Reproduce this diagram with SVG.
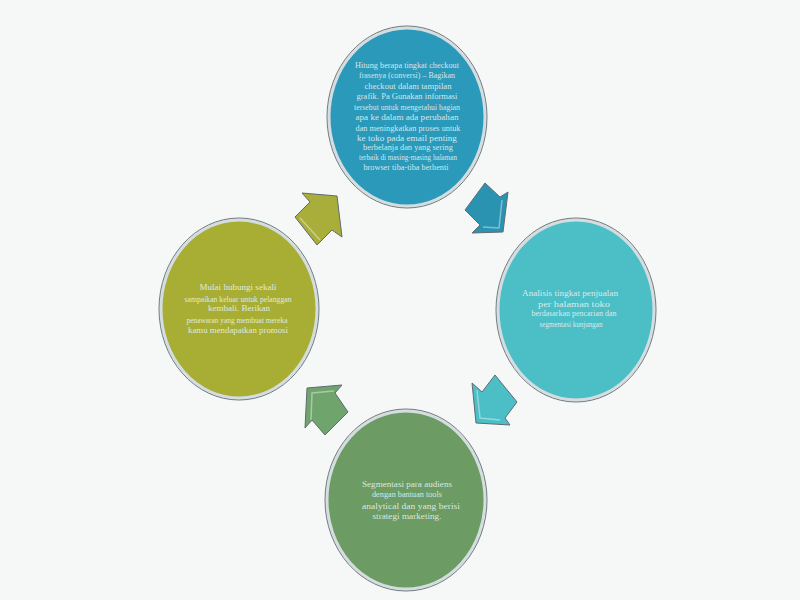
<svg xmlns="http://www.w3.org/2000/svg" width="800" height="600" viewBox="0 0 800 600">
<style>
.ring{stroke:#d4dde0;stroke-width:3}
.edge{fill:none;stroke:#5f6b70;stroke-width:0.9}
.t{font-family:"Liberation Serif","Times New Roman",serif;font-size:7.5px;fill:#e6f3f5;fill-opacity:0.9;text-anchor:middle}
.arr{stroke:#5f6b70;stroke-width:1;stroke-linejoin:round}
.hl{fill:none;stroke:#ffffff;stroke-opacity:0.4;stroke-width:1.5}
</style>
<rect width="800" height="600" fill="#f6f7f7"/>
<g id="connectors">
  <g id="arrow-top-right">
    <polygon class="arr" fill="#2b93b2" points="485,183 500,197 508,192 503,232 472,233 480,225 465,210"/>
    <polyline class="hl" points="483,227 499,228 502,200"/>
  </g>
  <g id="arrow-right-bottom">
    <polygon class="arr" fill="#4bbec6" points="495,375 517,402 505,418 510,425 476,423 472,383 482,392"/>
    <polyline class="hl" points="477,390 480,418 500,420"/>
  </g>
  <g id="arrow-bottom-left">
    <polygon class="arr" fill="#6fa56c" points="348,412 325,435 312,420 305,428 307,388 342,385 335,393"/>
    <polyline class="hl" points="311,420 312,393 334,391"/>
  </g>
  <g id="arrow-left-top">
    <polygon class="arr" fill="#a9ae3a" points="295,217 310,202 302,193 337,196 342,237 332,230 317,245"/>
    <polyline class="hl" points="300,218 320,240"/>
  </g>
</g>
<g id="node-top">
  <ellipse cx="407" cy="117" rx="78" ry="89" fill="#2a99ba" class="ring"/>
  <ellipse cx="407" cy="117" rx="80" ry="91" class="edge"/>
  <text class="t" x="407" y="68" textLength="104" lengthAdjust="spacingAndGlyphs">Hitung berapa tingkat checkout</text>
  <text class="t" x="407" y="78" textLength="96" lengthAdjust="spacingAndGlyphs">frasenya (conversi) – Bagikan</text>
  <text class="t" x="408" y="89" textLength="87" lengthAdjust="spacingAndGlyphs">checkout dalam tampilan</text>
  <text class="t" x="407" y="99" textLength="101" lengthAdjust="spacingAndGlyphs">grafik. Pa Gunakan informasi</text>
  <text class="t" x="407" y="110" textLength="106" lengthAdjust="spacingAndGlyphs">tersebut untuk mengetahui bagian</text>
  <text class="t" x="407" y="120" textLength="103" lengthAdjust="spacingAndGlyphs">apa ke dalam ada perubahan</text>
  <text class="t" x="408" y="131" textLength="105" lengthAdjust="spacingAndGlyphs">dan meningkatkan proses untuk</text>
  <text class="t" x="407" y="141" textLength="100" lengthAdjust="spacingAndGlyphs">ke toko pada email penting</text>
  <text class="t" x="408" y="150" textLength="90" lengthAdjust="spacingAndGlyphs">berbelanja dan yang sering</text>
  <text class="t" x="408" y="160" textLength="98" lengthAdjust="spacingAndGlyphs">terbaik di masing-masing halaman</text>
  <text class="t" x="406" y="170" textLength="85" lengthAdjust="spacingAndGlyphs">browser tiba-tiba berhenti</text>
</g>
<g id="node-right">
  <ellipse cx="576" cy="310" rx="78" ry="90" fill="#4bbec6" class="ring"/>
  <ellipse cx="576" cy="310" rx="80" ry="92" class="edge"/>
  <text class="t" x="570" y="296" textLength="96" lengthAdjust="spacingAndGlyphs">Analisis tingkat penjualan</text>
  <text class="t" x="574" y="307" textLength="72" lengthAdjust="spacingAndGlyphs">per halaman toko</text>
  <text class="t" x="574" y="316" textLength="85" lengthAdjust="spacingAndGlyphs">berdasarkan pencarian dan</text>
  <text class="t" x="571" y="327" textLength="63" lengthAdjust="spacingAndGlyphs">segmentasi kunjungan</text>
</g>
<g id="node-left">
  <ellipse cx="239" cy="309" rx="78" ry="89" fill="#a8ad34" class="ring"/>
  <ellipse cx="239" cy="309" rx="80" ry="91" class="edge"/>
  <text class="t" x="238" y="290" textLength="77" lengthAdjust="spacingAndGlyphs">Mulai hubungi sekali</text>
  <text class="t" x="238" y="302" textLength="107" lengthAdjust="spacingAndGlyphs">sampaikan keluar untuk pelanggan</text>
  <text class="t" x="239" y="311" textLength="62" lengthAdjust="spacingAndGlyphs">kembali. Berikan</text>
  <text class="t" x="237" y="323" textLength="101" lengthAdjust="spacingAndGlyphs">penawaran yang membuat mereka</text>
  <text class="t" x="238" y="333" textLength="100" lengthAdjust="spacingAndGlyphs">kamu mendapatkan promosi</text>
</g>
<g id="node-bottom">
  <ellipse cx="406" cy="500" rx="79" ry="89" fill="#6c9b63" class="ring"/>
  <ellipse cx="406" cy="500" rx="81" ry="91" class="edge"/>
  <text class="t" x="407" y="487" textLength="90" lengthAdjust="spacingAndGlyphs">Segmentasi para audiens</text>
  <text class="t" x="407" y="497" textLength="70" lengthAdjust="spacingAndGlyphs">dengan bantuan tools</text>
  <text class="t" x="411" y="509" textLength="98" lengthAdjust="spacingAndGlyphs">analytical dan yang berisi</text>
  <text class="t" x="407" y="519" textLength="69" lengthAdjust="spacingAndGlyphs">strategi marketing.</text>
</g>
</svg>
